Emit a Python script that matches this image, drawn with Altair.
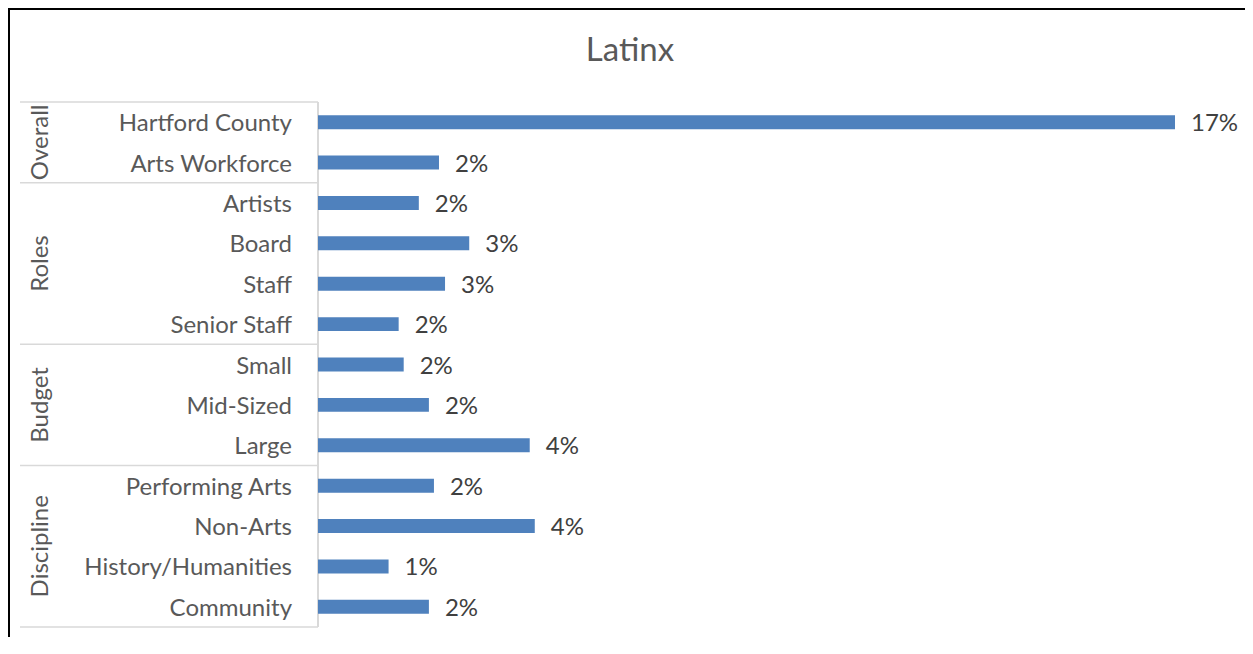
import altair as alt
import pandas as pd

categories = ["Hartford County", "Arts Workforce", "Artists", "Board", "Staff",
              "Senior Staff", "Small", "Mid-Sized", "Large", "Performing Arts",
              "Non-Arts", "History/Humanities", "Community"]
values = [0.170, 0.024, 0.020, 0.030, 0.0252, 0.016, 0.017, 0.022, 0.042,
          0.023, 0.043, 0.014, 0.022]
group_names = ["Overall", "Roles", "Budget", "Discipline"]
group_sizes = [2, 4, 3, 4]
chart_title = "Latinx"

W, H = 857, 525
PAD_L, PAD_T, PAD_R, PAD_B = 310, 94, 70, 10
FONT = "Lato"
FS = 24

df = pd.DataFrame({"category": categories, "value": values, "row": list(range(len(categories)))})
starts = [sum(group_sizes[:i]) for i in range(len(group_sizes))]
gdf = pd.DataFrame({"group": group_names, "start": starts, "size": group_sizes})
edges = pd.DataFrame({"edge": starts + [len(categories)]})

yscale = alt.Scale(domain=[0, len(categories)], reverse=True, nice=False, zero=False)
xscale = alt.Scale(domain=[0, 0.17], nice=False)

base = alt.Chart(df).transform_calculate(
    yc="datum.row + 0.5", y0="datum.row + 0.327", y1="datum.row + 0.673")

bars = base.mark_bar(color="#4F81BD").encode(
    x=alt.X("value:Q", scale=xscale, axis=None),
    x2=alt.datum(0),
    y=alt.Y("y0:Q", scale=yscale, axis=None),
    y2="y1:Q",
)

vlabels = base.mark_text(align="left", baseline="middle", dx=16, dy=2, fontSize=FS,
                         font=FONT, color="#404040").encode(
    x=alt.X("value:Q", scale=xscale, axis=None),
    y=alt.Y("yc:Q", scale=yscale, axis=None),
    text=alt.Text("value:Q", format=".0%"),
)

clabels = base.mark_text(align="right", baseline="middle", dy=2, fontSize=FS,
                         font=FONT, color="#595959").encode(
    x=alt.value(-26),
    y=alt.Y("yc:Q", scale=yscale, axis=None),
    text="category:N",
)

glabels = alt.Chart(gdf).transform_calculate(
    gc="datum.start + datum.size / 2").mark_text(
    angle=270, align="center", baseline="middle", fontSize=FS,
    font=FONT, color="#595959").encode(
    x=alt.value(-277),
    y=alt.Y("gc:Q", scale=yscale, axis=None),
    text="group:N",
)

seps = alt.Chart(edges).mark_rule(color="#d9d9d9", strokeWidth=1.5).encode(
    y=alt.Y("edge:Q", scale=yscale, axis=None),
    x=alt.value(-298),
    x2=alt.value(0),
)

axis_line = alt.Chart(df).mark_rule(color="#d9d9d9", strokeWidth=1.5).encode(
    x=alt.value(0), y=alt.value(0), y2=alt.value(H))

frame_top = alt.Chart(df).mark_rule(color="black", strokeWidth=2).encode(
    x=alt.value(-PAD_L), x2=alt.value(W + PAD_R), y=alt.value(-PAD_T + 1))
frame_left = alt.Chart(df).mark_rule(color="black", strokeWidth=2).encode(
    x=alt.value(-PAD_L + 1), y=alt.value(-PAD_T), y2=alt.value(H + PAD_B))

title = alt.Chart(pd.DataFrame({"t": [chart_title]})).mark_text(
    align="center", baseline="alphabetic", fontSize=33, font=FONT,
    color="#595959").encode(
    x=alt.value(630 - 8 - PAD_L), y=alt.value(-41), text="t:N")

chart = alt.layer(seps, axis_line, bars, vlabels, clabels, glabels,
                  frame_top, frame_left, title).properties(
    width=W, height=H,
    autosize=alt.AutoSizeParams(type="none"),
    padding={"left": PAD_L, "top": PAD_T, "right": PAD_R, "bottom": PAD_B},
).configure(background="white").configure_view(strokeWidth=0, stroke="transparent")

chart.save("out.html", embed_options={"renderer": "svg", "actions": False})
